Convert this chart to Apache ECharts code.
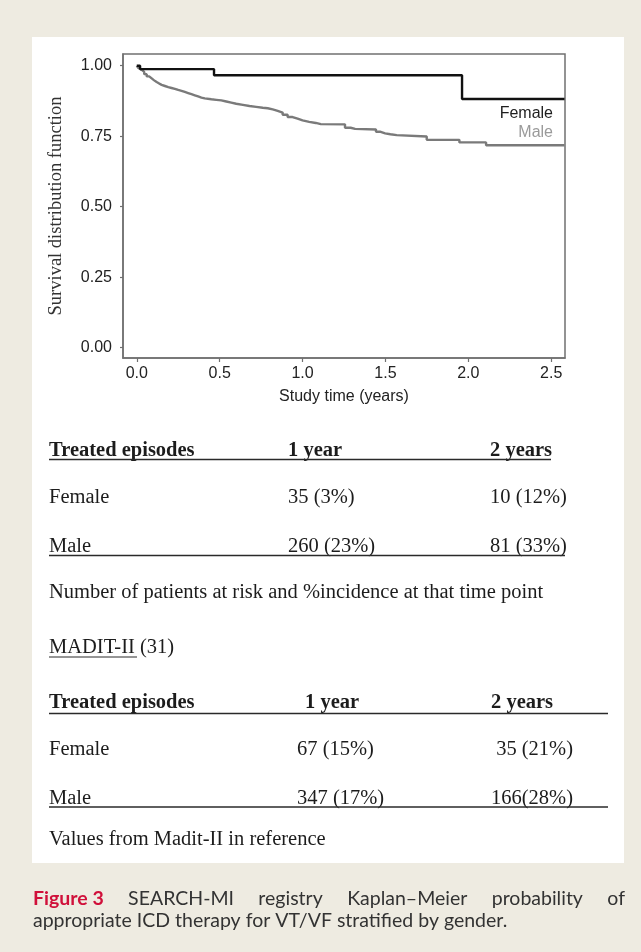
<!DOCTYPE html>
<html>
<head>
<meta charset="utf-8">
<script src="https://cdn.jsdelivr.net/npm/echarts@6/dist/echarts.min.js"></script>
<style>
html, body { margin: 0; padding: 0; background: #eeebe1; }
#c { width: 641px; height: 952px; }
</style>
</head>
<body>
<div id="c"></div>
<script>
// Kaplan–Meier estimates (years, survival probability)
const femaleTimes = [0, 0.02, 0.466, 1.962, 2.58];
const femaleSurv  = [1.0, 0.988, 0.966, 0.882, 0.882];

const maleTimes = [0, 0.01, 0.02, 0.03, 0.045, 0.06, 0.075, 0.09, 0.105, 0.12, 0.135, 0.15,
  0.17, 0.19, 0.21, 0.23, 0.25, 0.27, 0.29, 0.31, 0.33, 0.35, 0.37, 0.39, 0.41, 0.45, 0.48,
  0.51, 0.54, 0.57, 0.60, 0.64, 0.68, 0.72, 0.76, 0.79, 0.82, 0.85, 0.88, 0.91, 0.94, 0.97,
  1.00, 1.04, 1.08, 1.11, 1.256, 1.29, 1.317, 1.443, 1.467, 1.498, 1.53, 1.568, 1.749,
  1.946, 2.107, 2.58];
const maleSurv = [1.0, 0.992, 0.985, 0.978, 0.970, 0.962, 0.955, 0.948, 0.942, 0.937, 0.932, 0.928,
  0.924, 0.921, 0.918, 0.914, 0.911, 0.907, 0.903, 0.899, 0.895, 0.891, 0.887, 0.884, 0.881, 0.879, 0.877,
  0.873, 0.869, 0.865, 0.861, 0.857, 0.854, 0.851, 0.849, 0.845, 0.840, 0.834, 0.826, 0.818, 0.812, 0.806,
  0.801, 0.797, 0.793, 0.792, 0.780, 0.776, 0.774, 0.766, 0.760, 0.757, 0.754, 0.749, 0.737,
  0.728, 0.718, 0.718];

const xTicks = [0, 0.5, 1.0, 1.5, 2.0, 2.5];
const yTicks = [0, 0.25, 0.5, 0.75, 1.0];

// Tables below the plot
const tableHead = ['Treated episodes', '1 year', '2 years'];
const registryRows = [
  ['Female', '35 (3%)', '10 (12%)'],
  ['Male', '260 (23%)', '81 (33%)']
];
const registryNote = 'Number of patients at risk and %incidence at that time point';
const maditTitle = 'MADIT-II';
const maditRef = ' (31)';
const maditRows = [
  ['Female', '67 (15%)', ' 35 (21%)'],
  ['Male', '347 (17%)', '166(28%)']
];
const maditNote = 'Values from Madit-II in reference';

const captionLead = 'Figure 3';
const captionLine1 = ['SEARCH-MI', 'registry', 'Kaplan\u2013Meier', 'probability', 'of'];
const captionLine2 = 'appropriate ICD therapy for VT/VF stratified by gender.';

const zip = (a, b) => a.map((v, i) => [v, b[i]]);

const SERIF = '"Liberation Serif", "Times New Roman", serif';
const SANS = '"Liberation Sans", Arial, sans-serif';
const CAP = 'Lato, "Open Sans", sans-serif';

const chart = echarts.init(document.getElementById('c'), null, { renderer: 'canvas' });

const g = [];
// white panel
g.push({ type: 'rect', z: -100, shape: { x: 32, y: 37, width: 592, height: 826 }, style: { fill: '#ffffff' } });

// in-plot curve labels
g.push({ type: 'text', x: 553, y: 114, style: { text: 'Female', font: '16px ' + SANS, fill: '#1e1e1e', align: 'right', verticalAlign: 'middle' } });
g.push({ type: 'text', x: 553, y: 133, style: { text: 'Male', font: '16px ' + SANS, fill: '#9a9a9a', align: 'right', verticalAlign: 'middle' } });

function txt(s, x, y, bold) {
  g.push({ type: 'text', x: x, y: y, style: { text: s, font: (bold ? 'bold ' : '') + '20.5px ' + SERIF, fill: '#1c1c1c', align: 'left', verticalAlign: 'middle' } });
}
function rule(x1, x2, y, w) {
  g.push({ type: 'line', shape: { x1: x1, y1: y, x2: x2, y2: y }, style: { stroke: '#2a2a2a', lineWidth: w || 1.5 } });
}

// registry table
const c1 = [49, 288, 490];
txt(tableHead[0], c1[0], 451, true); txt(tableHead[1], c1[1], 451, true); txt(tableHead[2], c1[2], 451, true);
rule(49, 551, 459.5);
registryRows.forEach((r, i) => {
  const y = 498 + i * 48.5;
  r.forEach((s, j) => txt(s, c1[j], y, false));
});
rule(49, 565, 555.5);
txt(registryNote, 49, 593, false);

// MADIT-II table
txt(maditTitle + maditRef, 49, 648, false);
rule(49, 137, 657, 1);
txt(tableHead[0], 49, 703, true); txt(tableHead[1], 305, 703, true); txt(tableHead[2], 491, 703, true);
rule(49, 608, 713.5);
maditRows.forEach((r, i) => {
  const y = 750 + i * 48.5;
  txt(r[0], 49, y, false); txt(r[1], 297, y, false); txt(r[2], 491, y, false);
});
rule(49, 608, 807);
txt(maditNote, 49, 840, false);

// caption: first line justified across the column
const cv = document.createElement('canvas').getContext('2d');
const capSize = 19.5;
const leadFont = 'bold ' + capSize + 'px ' + CAP;
const bodyFont = capSize + 'px ' + CAP;
cv.font = leadFont; const leadW = cv.measureText(captionLead).width;
cv.font = bodyFont;
const wWidths = captionLine1.map(w => cv.measureText(w).width);
const capL = 33, capR = 625;
const gap = (capR - capL - leadW - wWidths.reduce((a, b) => a + b, 0)) / captionLine1.length;
g.push({ type: 'text', x: capL, y: 899, style: { text: captionLead, font: leadFont, fill: '#d0103a', verticalAlign: 'middle' } });
let cx = capL + leadW + gap;
captionLine1.forEach((w, i) => {
  g.push({ type: 'text', x: cx, y: 899, style: { text: w, font: bodyFont, fill: '#333333', verticalAlign: 'middle' } });
  cx += wWidths[i] + gap;
});
g.push({ type: 'text', x: capL, y: 921, style: { text: captionLine2, font: bodyFont, fill: '#333333', verticalAlign: 'middle' } });

const frameColor = '#707070';

chart.setOption({
  backgroundColor: '#eeebe1',
  animation: false,
  grid: { left: 123, top: 54, width: 442, height: 304, show: true, borderColor: frameColor, borderWidth: 1.5, backgroundColor: 'transparent' },
  xAxis: {
    type: 'value', min: -0.083, max: 2.583,
    name: 'Study time (years)', nameLocation: 'middle', nameGap: 31,
    nameTextStyle: { fontFamily: SANS, fontSize: 16, color: '#222' },
    axisLine: { show: true, onZero: false, lineStyle: { color: frameColor, width: 1.5 } },
    axisTick: { show: true, inside: false, length: 4, customValues: xTicks, lineStyle: { color: frameColor, width: 1.2 } },
    axisLabel: { customValues: xTicks, formatter: v => v.toFixed(1), fontFamily: SANS, fontSize: 16, color: '#222', margin: 8 },
    splitLine: { show: false }
  },
  yAxis: {
    type: 'value', min: -0.0365, max: 1.0415,
    name: 'Survival distribution function', nameLocation: 'middle', nameGap: 57, nameRotate: 90,
    nameTextStyle: { fontFamily: SERIF, fontSize: 18.5, color: '#333' },
    axisLine: { show: true, onZero: false, lineStyle: { color: frameColor, width: 1.5 } },
    axisTick: { show: true, inside: false, length: 3, customValues: yTicks, lineStyle: { color: frameColor, width: 1.2 } },
    axisLabel: { customValues: yTicks, formatter: v => v.toFixed(2), fontFamily: SANS, fontSize: 16, color: '#222', margin: 11 },
    splitLine: { show: false }
  },
  series: [
    { name: 'Male', type: 'line', step: 'end', data: zip(maleTimes, maleSurv), symbol: 'none', lineStyle: { color: '#7a7a7a', width: 2.4 }, z: 2 },
    { name: 'Female', type: 'line', step: 'end', data: zip(femaleTimes, femaleSurv), symbol: 'none', lineStyle: { color: '#111111', width: 2.4 }, z: 3 }
  ],
  graphic: g
});
</script>
</body>
</html>
